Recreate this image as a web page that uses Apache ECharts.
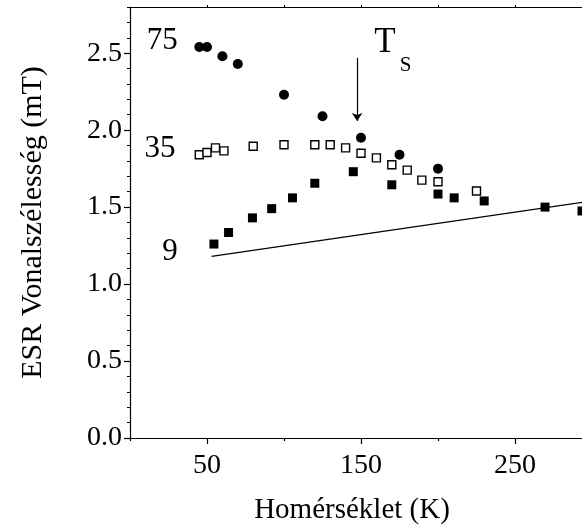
<!DOCTYPE html>
<html>
<head>
<meta charset="utf-8">
<script src="https://cdn.jsdelivr.net/npm/echarts@6/dist/echarts.min.js"></script>
<style>
  html, body { margin: 0; padding: 0; background: #fff; }
  #chart { width: 582px; height: 525px; }
</style>
</head>
<body>
<div id="chart"></div>
<script>
// ESR linewidth vs temperature for three samples (75, 35, 9)
const temp75 = [45, 50, 60, 70, 100, 125, 150, 175, 200];
const width75 = [2.54, 2.54, 2.48, 2.43, 2.23, 2.09, 1.95, 1.84, 1.75];

const temp35 = [45, 50, 55.5, 61, 80, 100, 120, 130, 140, 150, 160, 170, 180, 189.5, 200, 225];
const width35 = [1.84, 1.855, 1.885, 1.865, 1.895, 1.905, 1.905, 1.905, 1.885, 1.85, 1.82, 1.775, 1.74, 1.675, 1.665, 1.605];

const temp9 = [54.5, 64, 79.5, 92, 105.5, 120, 145, 170, 200, 210.5, 230, 269.5, 293.5];
const width9 = [1.26, 1.335, 1.43, 1.49, 1.56, 1.655, 1.73, 1.645, 1.585, 1.56, 1.54, 1.50, 1.475];

// reference straight line
const lineTemp = [53, 300];
const lineWidth = [1.18, 1.54];

// tick labels
const xTickLabels = [50, 150, 250];
const xMinorTicks = [0, 100, 200, 300];
const xTopTicks = [50, 100, 150, 200, 250, 300];
const yTickLabels = [0, 0.5, 1.0, 1.5, 2.0, 2.5];

// series labels and the T_S marker
const seriesNames = ['75', '35', '9'];
const seriesNameTemp = [21, 19.5, 26];
const seriesNameWidth = [2.58, 1.88, 1.21];
const tsTemp = [165.6, 179];
const tsWidth = [2.565, 2.42];
const arrowTemp = 147.5;
const arrowWidth = [2.47, 2.06];

const yMinorTicks = [];
for (let i = 1; i <= 28; i++) {
  if (i % 5 !== 0) yMinorTicks.push(+(i / 10).toFixed(1));
}

const zip = (a, b) => a.map((v, i) => [v, b[i]]);
const FONT = 'Liberation Serif';
const BLACK = '#000';

const chart = echarts.init(document.getElementById('chart'));

const option = {
  animation: false,
  backgroundColor: '#fff',
  textStyle: { fontFamily: FONT, color: BLACK },
  grid: {
    left: 130, top: 7, width: 462, height: 431,
    containLabel: false, outerBoundsMode: 'none'
  },
  xAxis: [
    {
      type: 'value', min: 0, max: 300, position: 'bottom',
      axisLine: { onZero: false, lineStyle: { color: BLACK, width: 1.2 } },
      axisTick: { customValues: xTickLabels, length: 6, lineStyle: { color: BLACK, width: 1.2 } },
      axisLabel: { customValues: xTickLabels, color: BLACK, fontFamily: FONT, fontSize: 28, margin: 14 },
      splitLine: { show: false },
      name: 'Homérséklet (K)', nameLocation: 'middle', nameGap: 58,
      nameTextStyle: { color: BLACK, fontFamily: FONT, fontSize: 29, padding: [0, 18, 0, 0] }
    },
    {
      type: 'value', min: 0, max: 300, position: 'bottom',
      axisLine: { show: false, onZero: false },
      axisTick: { customValues: xMinorTicks, length: 3, lineStyle: { color: BLACK, width: 1.2 } },
      axisLabel: { show: false },
      splitLine: { show: false }
    },
    {
      type: 'value', min: 0, max: 300, position: 'top',
      axisLine: { onZero: false, lineStyle: { color: BLACK, width: 1.2 } },
      axisTick: { customValues: xTopTicks, length: 2, lineStyle: { color: BLACK, width: 1 } },
      axisLabel: { show: false },
      splitLine: { show: false }
    }
  ],
  yAxis: [
    {
      type: 'value', min: 0, max: 2.8, position: 'left',
      axisLine: { onZero: false, lineStyle: { color: BLACK, width: 1.2 } },
      axisTick: { customValues: yTickLabels, length: 6, lineStyle: { color: BLACK, width: 1.2 } },
      axisLabel: {
        customValues: yTickLabels, color: BLACK, fontFamily: FONT, fontSize: 28, margin: 8,
        formatter: v => v.toFixed(1)
      },
      splitLine: { show: false },
      name: 'ESR Vonalszélesség (mT)', nameLocation: 'middle', nameGap: 82,
      nameTextStyle: { color: BLACK, fontFamily: FONT, fontSize: 30 }
    },
    {
      type: 'value', min: 0, max: 2.8, position: 'left',
      axisLine: { show: false, onZero: false },
      axisTick: { customValues: yMinorTicks, length: 3, lineStyle: { color: BLACK, width: 1 } },
      axisLabel: { show: false },
      splitLine: { show: false }
    }
  ],
  series: [
    {
      type: 'line', data: zip(lineTemp, lineWidth), symbol: 'none',
      lineStyle: { color: BLACK, width: 1.3 }, z: 1,
      markLine: {
        silent: true, symbol: ['none', 'arrow'], symbolSize: 8,
        label: { show: false },
        lineStyle: { color: BLACK, width: 1.2, type: 'solid' },
        data: [[{ coord: [arrowTemp, arrowWidth[0]] }, { coord: [arrowTemp, arrowWidth[1]] }]]
      }
    },
    {
      type: 'scatter', data: zip(temp75, width75), symbol: 'circle', symbolSize: 10,
      itemStyle: { color: BLACK, opacity: 1 }, z: 3
    },
    {
      type: 'scatter', data: zip(temp35, width35), symbol: 'rect', symbolSize: 8,
      itemStyle: { color: '#fff', borderColor: BLACK, borderWidth: 1.4, opacity: 1 }, z: 3
    },
    {
      type: 'scatter', data: zip(temp9, width9), symbol: 'rect', symbolSize: 9,
      itemStyle: { color: BLACK, opacity: 1 }, z: 3
    },
    {
      type: 'scatter', symbolSize: 0, silent: true,
      itemStyle: { color: BLACK, opacity: 1 },
      data: seriesNames.map((n, i) => ({ value: [seriesNameTemp[i], seriesNameWidth[i]], name: n })),
      label: {
        show: true, position: 'inside', formatter: p => p.name,
        color: BLACK, fontFamily: FONT, fontSize: 31
      }
    },
    {
      type: 'scatter', symbolSize: 0, silent: true,
      itemStyle: { color: BLACK, opacity: 1 },
      data: [
        { value: [tsTemp[0], tsWidth[0]], name: 'T', label: { fontSize: 35 } },
        { value: [tsTemp[1], tsWidth[1]], name: 'S', label: { fontSize: 21 } }
      ],
      label: {
        show: true, position: 'inside', formatter: p => p.name,
        color: BLACK, fontFamily: FONT
      }
    }
  ]
};

chart.setOption(option);
</script>
</body>
</html>
